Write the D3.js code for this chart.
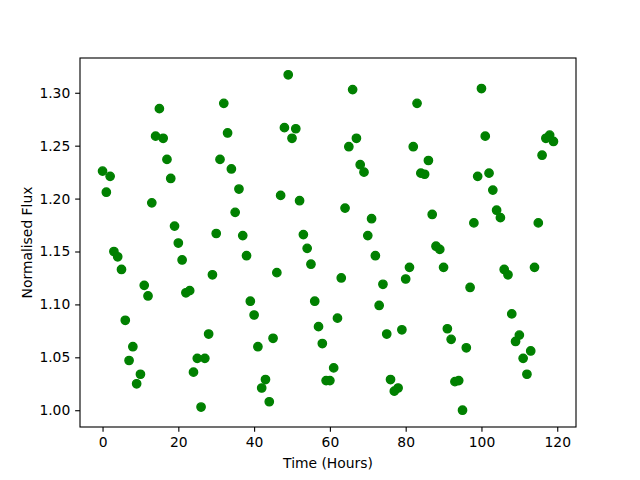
<!DOCTYPE html>
<html>
<head>
<meta charset="utf-8">
<script src="https://cdn.jsdelivr.net/npm/d3@7"></script>
<style>
  html, body { margin: 0; padding: 0; background: #fff; }
  svg { display: block; font-family: "DejaVu Sans", sans-serif; }
</style>
</head>
<body>
<svg id="chart" width="640" height="480"></svg>
<script>
// Data: flux measured once per hour
const hours = d3.range(0, 120);
const flux = [
  1.226, 1.206, 1.221, 1.150, 1.145, 1.133, 1.085, 1.047, 1.060, 1.025,
  1.034, 1.118, 1.108, 1.196, 1.259, 1.285, 1.257, 1.237, 1.219, 1.174,
  1.158, 1.142, 1.111, 1.113, 1.036, 1.049, 1.003, 1.049, 1.072, 1.128,
  1.167, 1.237, 1.290, 1.262, 1.228, 1.187, 1.209, 1.165, 1.146, 1.103,
  1.090, 1.060, 1.021, 1.029, 1.008, 1.068, 1.130, 1.203, 1.267, 1.317,
  1.257, 1.266, 1.198, 1.166, 1.153, 1.138, 1.103, 1.079, 1.063, 1.028,
  1.028, 1.040, 1.087, 1.125, 1.191, 1.249, 1.303, 1.257, 1.232, 1.225,
  1.165, 1.181, 1.146, 1.099, 1.119, 1.072, 1.029, 1.018, 1.021, 1.076,
  1.124, 1.135, 1.249, 1.290, 1.224, 1.223, 1.236, 1.185, 1.155, 1.152,
  1.135, 1.077, 1.067, 1.027, 1.028, 1.000, 1.059, 1.116, 1.177, 1.221,
  1.304, 1.259, 1.224, 1.208, 1.189, 1.182, 1.133, 1.128, 1.091, 1.065,
  1.071, 1.049, 1.034, 1.056, 1.135, 1.177, 1.241, 1.257, 1.260, 1.254
];
const xTicks = [0, 20, 40, 60, 80, 100, 120];
const yTicks = [1.00, 1.05, 1.10, 1.15, 1.20, 1.25, 1.30];
const xLabel = "Time (Hours)";
const yLabel = "Normalised Flux";

const points = hours.map((h, i) => ({ h, f: flux[i] }));

const svg = d3.select("#chart");
const L = 80, R = 576, T = 58, B = 427;
const pt = 100 / 72;

function padded(ext) {
  const m = (ext[1] - ext[0]) * 0.05;
  return [ext[0] - m, ext[1] + m];
}
const x = d3.scaleLinear().domain(padded(d3.extent(hours))).range([L, R]);
const y = d3.scaleLinear().domain(padded(d3.extent(flux))).range([B, T]);

// Points
svg.append("g").selectAll("circle").data(points).join("circle")
  .attr("cx", d => x(d.h))
  .attr("cy", d => y(d.f))
  .attr("r", 3 * pt)
  .attr("fill", "#008000")
  .attr("stroke", "#008000")
  .attr("stroke-width", 1 * pt);

// Axes
const tickLen = 3.5 * pt;
const fs = 10 * pt;
const xAxis = svg.append("g").attr("transform", `translate(0,${B})`)
  .call(d3.axisBottom(x).tickValues(xTicks).tickFormat(d3.format("d"))
        .tickSize(tickLen).tickPadding(3.5 * pt).tickSizeOuter(0));
const yAxis = svg.append("g").attr("transform", `translate(${L},0)`)
  .call(d3.axisLeft(y).tickValues(yTicks).tickFormat(d3.format(".2f"))
        .tickSize(tickLen).tickPadding(3.5 * pt).tickSizeOuter(0));
[xAxis, yAxis].forEach(a => {
  a.select(".domain").remove();
  a.selectAll(".tick line").attr("stroke", "#000").attr("stroke-width", 0.8 * pt);
  a.selectAll(".tick text").attr("fill", "#000")
    .style("font-family", "DejaVu Sans").style("font-size", fs + "px");
});

// Spines
svg.append("rect")
  .attr("x", L).attr("y", T).attr("width", R - L).attr("height", B - T)
  .attr("fill", "none").attr("stroke", "#000").attr("stroke-width", 0.8 * pt);

// Labels
svg.append("text")
  .attr("x", (L + R) / 2).attr("y", 468)
  .attr("text-anchor", "middle")
  .style("font-size", fs + "px").text(xLabel);
svg.append("text")
  .attr("transform", `translate(32,${(T + B) / 2}) rotate(-90)`)
  .attr("text-anchor", "middle")
  .style("font-size", fs + "px").text(yLabel);
</script>
</body>
</html>
